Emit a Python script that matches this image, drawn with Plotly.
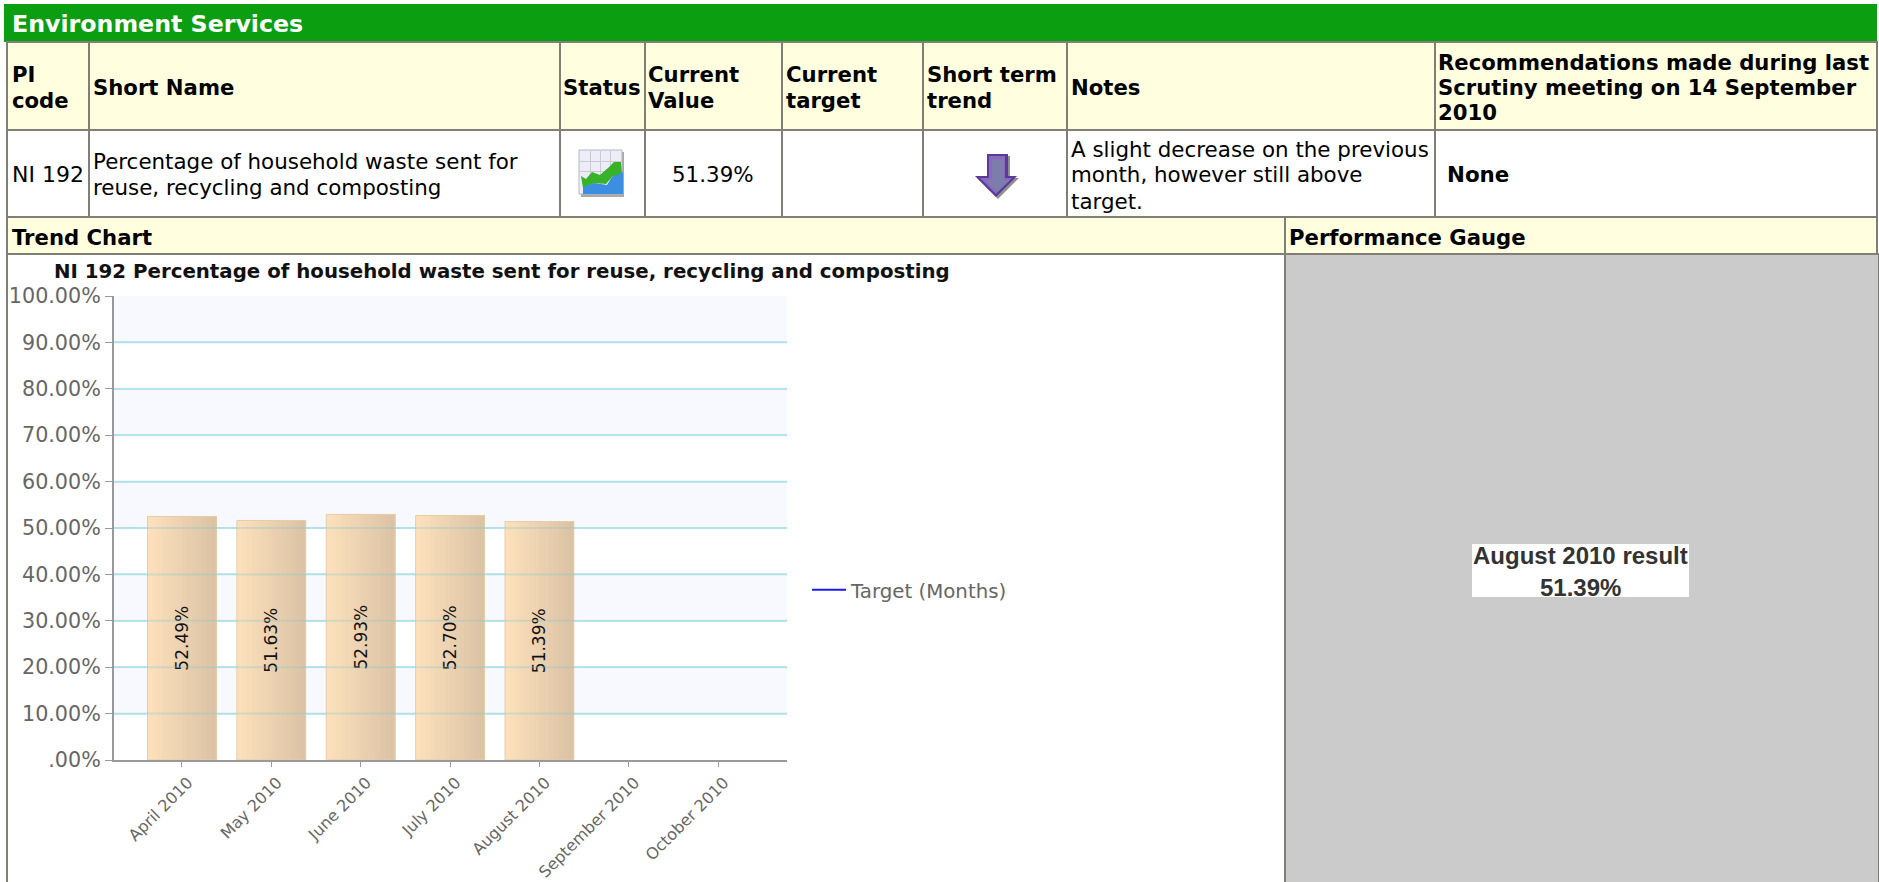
import plotly.graph_objects as go

W, H = 1879, 882

months = ["April 2010", "May 2010", "June 2010", "July 2010", "August 2010", "September 2010", "October 2010"]
values = [52.49, 51.63, 52.93, 52.70, 51.39, None, None]
value_labels = ["52.49%", "51.63%", "52.93%", "52.70%", "51.39%", "", ""]
target = [None] * 7
y_ticks = [0, 10, 20, 30, 40, 50, 60, 70, 80, 90, 100]
y_labels = [".00%", "10.00%", "20.00%", "30.00%", "40.00%", "50.00%", "60.00%", "70.00%", "80.00%", "90.00%", "100.00%"]
band_ranges = [(10, 20), (30, 40), (50, 60), (70, 80), (90, 100)]

section_title = "Environment Services"
chart_title = "NI 192 Percentage of household waste sent for reuse, recycling and composting"
legend_name = "Target (Months)"

FONT = "DejaVu Sans"
BORDER = "#7f7f77"
YELLOW = "#ffffe0"
GREEN = "#0a9e10"
BODY = 21.4
HEAD = 21.2


def px(x):
    return x / W


def py(y):
    return 1 - y / H


shapes = []
annotations = []


def rect(x0, y0, x1, y1, fill=None, line=None, lw=2, layer="below"):
    shapes.append(dict(type="rect", xref="paper", yref="paper", x0=px(x0), x1=px(x1), y0=py(y0), y1=py(y1),
                       fillcolor=fill or "rgba(0,0,0,0)", line=dict(color=line or "rgba(0,0,0,0)", width=lw if line else 0),
                       layer=layer))


def poly(points, fill, layer="above", line=None, lw=1):
    path = "M " + " L ".join(f"{px(x):.5f},{py(y):.5f}" for x, y in points) + " Z"
    shapes.append(dict(type="path", xref="paper", yref="paper", path=path, fillcolor=fill,
                       line=dict(color=line or "rgba(0,0,0,0)", width=lw if line else 0), layer=layer))


def text(x, y, s, size=BODY, bold=False, color="#000000", anchor="left", family=FONT):
    annotations.append(dict(xref="paper", yref="paper", x=px(x), y=py(y), text=f"<b>{s}</b>" if bold else s,
                            showarrow=False, xanchor=anchor, yanchor="middle", align=anchor,
                            font=dict(family=family, size=size, color=color), borderpad=0, borderwidth=0))


# Table frame
rect(4, 4, 1877, 42, fill=GREEN)
text(12, 23.5, section_title, size=23.7, bold=True, color="#ffffff")

col_edges = [7, 89, 560, 645, 782, 923, 1067, 1435, 1877]
for a, b in zip(col_edges[:-1], col_edges[1:]):
    rect(a, 42, b, 130, fill=YELLOW, line=BORDER)
    rect(a, 130, b, 217, fill="#ffffff", line=BORDER)
rect(7, 217, 1285, 254, fill=YELLOW, line=BORDER)
rect(1285, 217, 1877, 254, fill=YELLOW, line=BORDER)
rect(7, 254, 1285, 890, fill="#ffffff", line=BORDER)
rect(1285, 254, 1879, 890, fill="#cbcbcb", line=BORDER)

# Header row
header_cells = [
    (12, [(75, "PI"), (101, "code")]),
    (93, [(88, "Short Name")]),
    (563, [(88, "Status")]),
    (648, [(75, "Current"), (101, "Value")]),
    (786, [(75, "Current"), (101, "target")]),
    (927, [(75, "Short term"), (101, "trend")]),
    (1071, [(88, "Notes")]),
    (1438, [(62, "Recommendations made during last"), (88, "Scrutiny meeting on 14 September"), (113, "2010")]),
]
for x, lines in header_cells:
    for y, s in lines:
        text(x, y, s, bold=True, size=HEAD)

# Data row
text(12, 175, "NI 192", size=22)
text(93, 162, "Percentage of household waste sent for")
text(93, 188, "reuse, recycling and composting")
text(713, 175, "51.39%", anchor="center")
text(1071, 149, "A slight decrease on the previous")
text(1071, 175, "month, however still above")
text(1071, 201, "target.")
text(1447, 175, "None", bold=True)

text(12, 238, "Trend Chart", bold=True, size=HEAD)
text(1289, 238, "Performance Gauge", bold=True, size=HEAD)

# Status icon
poly([(581, 152), (624, 152), (624, 197), (581, 197)], "#a9a9a9")
rect(579, 150, 622, 194, fill="#ecedf6", line="#b5b7c0", lw=1, layer="above")
for gx in (590, 600, 610):
    poly([(gx, 151), (gx + 1, 151), (gx + 1, 186), (gx, 186)], "#c9cbd4")
for gy in (161, 171):
    poly([(580, gy), (622, gy), (622, gy + 1), (580, gy + 1)], "#c9cbd4")
poly([(581, 176), (586, 179), (592, 172), (600, 175), (608, 168), (614, 162), (621, 162), (622, 174), (612, 177),
      (606, 184), (595, 183), (583, 188)], "#37b229")
poly([(583, 187), (595, 183), (607, 185), (612, 177), (623, 172), (623, 194), (583, 194)], "#3b8ee0")

# Trend arrow
poly([(989, 156), (1010, 156), (1010, 178), (1019, 178), (998, 199), (977, 178), (989, 178)], "#8f8f93")
poly([(987, 154), (1008, 154), (1008, 176), (1017, 176), (996, 197), (975, 176), (987, 176)], "#5a3a98")
poly([(989, 156), (1005, 156), (1005, 178), (1012, 178), (996, 194), (980, 178), (989, 178)], "#8a68c0")
poly([(992, 159), (1004, 159), (1004, 180), (1010, 180), (997, 192), (985, 180), (992, 180)], "#7c7dab")

# Performance gauge
rect(1472, 544, 1689, 597, fill="#ffffff", layer="below")
text(1580, 555, "August 2010 result", size=24, bold=True, color="#333333", anchor="center", family="Liberation Sans")
text(1580, 587, "51.39%", size=24, bold=True, color="#333333", anchor="center", family="Liberation Sans")

# Plot-area bands
for lo, hi in band_ranges:
    shapes.append(dict(type="rect", xref="x domain", yref="y", x0=0, x1=1, y0=lo, y1=hi,
                       fillcolor="#f8f9fe", line=dict(width=0), layer="below"))

# Faint grid drawn over the columns, as the reference's columns are see-through
for v in y_ticks[1:-1]:
    shapes.append(dict(type="line", xref="x domain", yref="y", x0=0, x1=1, y0=v, y1=v,
                       line=dict(color="rgba(120,200,215,0.30)", width=2), layer="above"))

fig = go.Figure()

# Bars: each strip runs to the column's right edge, painted left to right, for the horizontal shading
N = 14
BW = 0.77
c0, c1 = (252, 224, 187), (219, 195, 165)
for i in range(N):
    t = i / (N - 1)
    col = tuple(round(a + (b - a) * t) for a, b in zip(c0, c1))
    fig.add_trace(go.Bar(x=months, y=values, width=BW * (N - i) / N, offset=-BW / 2 + i * BW / N, showlegend=False,
                         hoverinfo="skip", marker=dict(color=f"rgb{col}", line=dict(width=0))))

fig.add_trace(go.Bar(x=months, y=values, width=BW, offset=-BW / 2, showlegend=False,
                     text=value_labels, textposition="inside", insidetextanchor="middle", textangle=-90,
                     constraintext="none", textfont=dict(family=FONT, size=17, color="#111111"),
                     marker=dict(color="rgba(0,0,0,0)", line=dict(color="#e6cda8", width=1))))

fig.add_trace(go.Scatter(x=months, y=target, mode="lines", name=legend_name, line=dict(color="#1a1aee", width=2)))

fig.update_layout(
    width=W, height=H, margin=dict(l=0, r=0, t=0, b=0, pad=0), autosize=False,
    paper_bgcolor="#ffffff", plot_bgcolor="#ffffff", barmode="overlay",
    title=dict(text=f"<b>{chart_title}</b>", x=px(54), xanchor="left", y=py(271), yanchor="middle",
               xref="paper", yref="paper", font=dict(family=FONT, size=19.8, color="#111111")),
    xaxis=dict(domain=[px(114), px(787)], type="category", categoryorder="array", categoryarray=months,
               range=[-0.76, 6.77], showgrid=False, zeroline=False, showline=True, linecolor="#999999", linewidth=2,
               ticks="outside", ticklen=5, tickcolor="#999999", tickangle=-45, ticklabelshift=6, ticklabelstandoff=0,
               tickfont=dict(family=FONT, size=16, color="#666666"), automargin=False),
    yaxis=dict(domain=[py(760), py(296)], range=[0, 100], tickmode="array", tickvals=y_ticks, ticktext=y_labels,
               showgrid=True, gridcolor="#cdecf1", gridwidth=2, zeroline=False, showline=True,
               linecolor="#999999", linewidth=2, ticks="outside", ticklen=7, tickcolor="#999999",
               tickfont=dict(family=FONT, size=20.7, color="#666666"), automargin=False),
    legend=dict(x=px(807), y=py(590), xanchor="left", yanchor="middle", bgcolor="rgba(0,0,0,0)",
                font=dict(family=FONT, size=19.8, color="#666666"), itemwidth=34, borderwidth=0),
    shapes=shapes, annotations=annotations, hovermode=False,
)

fig.write_html("out.html", config=dict(displayModeBar=False),
               post_script="document.body.style.margin='0';document.body.style.overflow='hidden';")
